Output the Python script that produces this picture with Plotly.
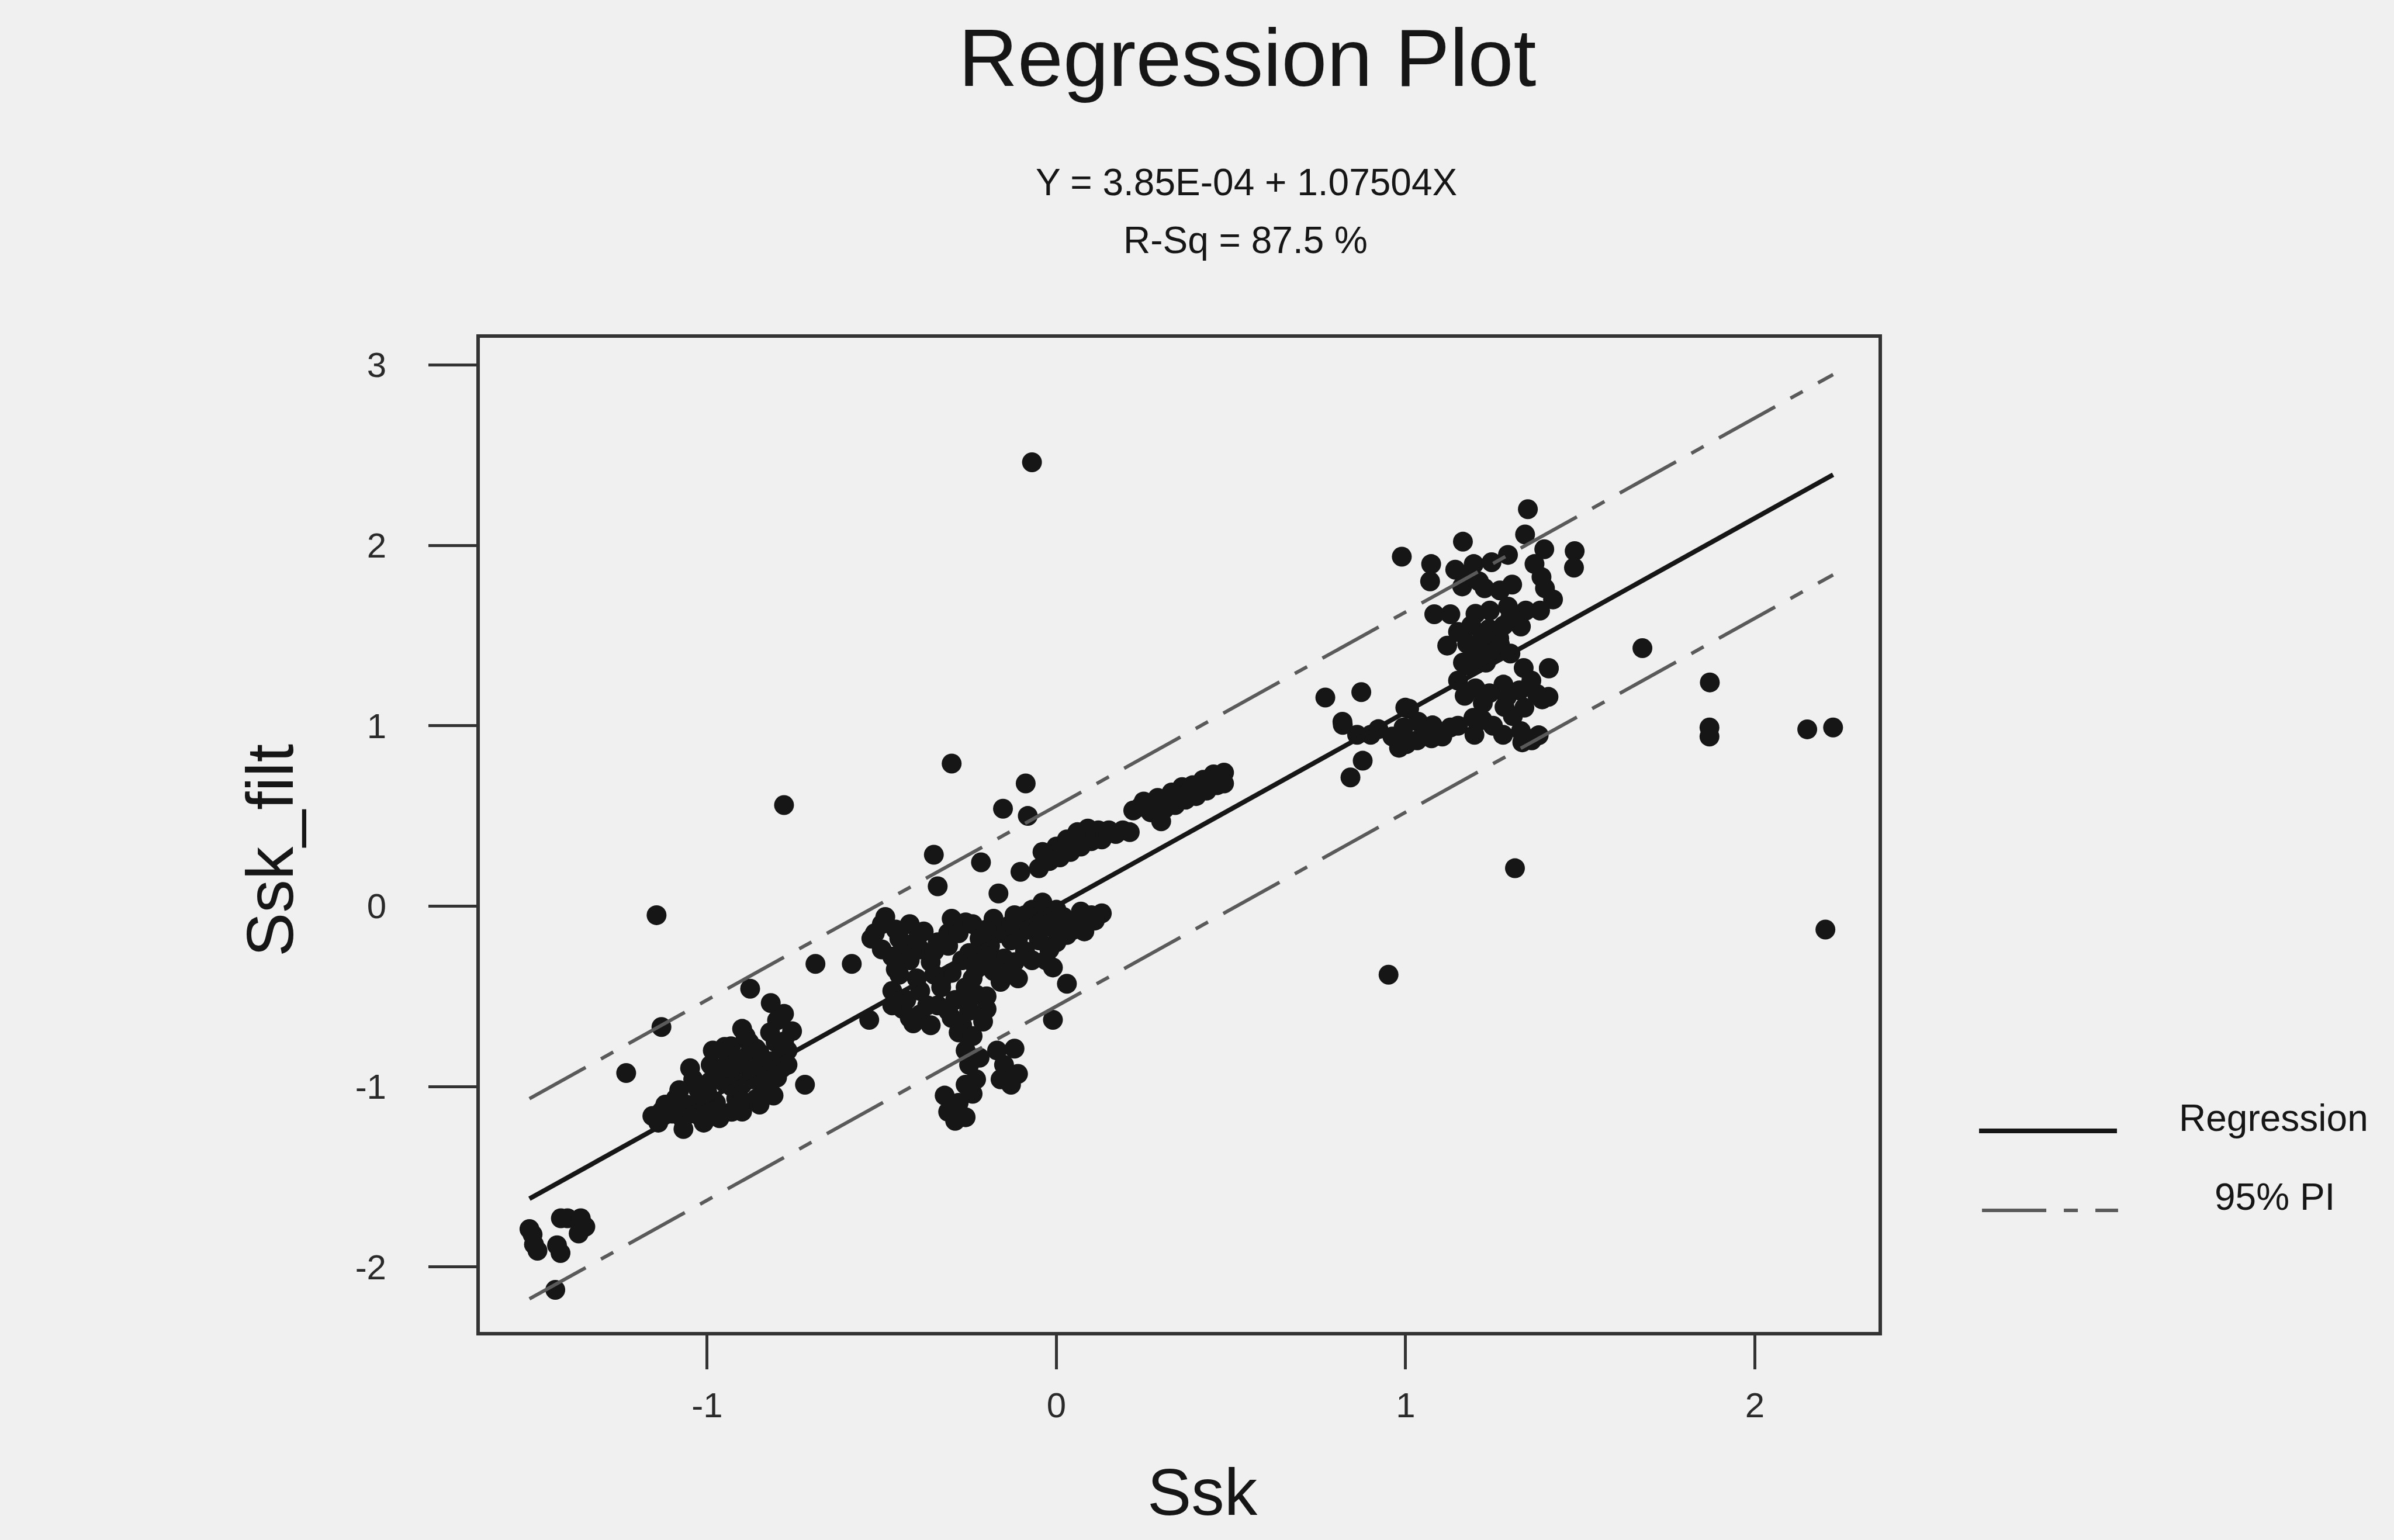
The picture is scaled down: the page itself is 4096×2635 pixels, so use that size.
import plotly.graph_objects as go

# ---- observations: Ssk (x) and filtered Ssk (y) ----
ssk = [
    # isolated observations
    -0.07, -0.78, -1.145, -0.30, 1.678, 1.871, 1.87, 1.87, 2.15, 2.224, 2.202, 1.313, 0.951,
    -1.232, -0.69, -0.586, -0.72, -0.877, -1.131, -0.536,
    # points near the upper band of the central group
    -0.088, -0.153, -0.082, -0.351, -0.216, -0.103, -0.34, -0.166,
    # central group, upper-left lobe
    -0.49, -0.52, -0.46, -0.42, -0.38, -0.50, -0.44, -0.39, -0.34, -0.42, -0.36, -0.47, -0.53,
    -0.30, -0.26, -0.31,
    -0.50, -0.45, -0.40, -0.35, -0.31, -0.28, -0.27, -0.30, -0.33, -0.40, -0.46,
    # central group, middle streak
    -0.24, -0.22, -0.25, -0.21, -0.24, -0.18, -0.16, -0.19, -0.15, -0.18, -0.16,
    -0.12, -0.10, -0.13, -0.09, -0.12, -0.07, -0.04, -0.08, -0.05, -0.02,
    -0.04, 0.00, 0.02, -0.01, 0.03, 0.07, 0.10, 0.13, 0.05, 0.09,
    -0.14, -0.11, -0.07, -0.03, 0.00, 0.05, 0.08, 0.11, -0.20, -0.23, -0.11, -0.06, -0.13, -0.20, -0.09,
    # central group, lower lobe and tail
    -0.47, -0.43, -0.39, -0.44, -0.39, -0.34, -0.36, -0.30, -0.29, -0.25, -0.23, -0.33, -0.41, -0.27,
    -0.45, -0.35, -0.26, -0.20, -0.37, -0.31, -0.42, -0.47, -0.25,
    -0.28, -0.24, -0.26, -0.22, -0.25, -0.20, -0.21,
    -0.17, -0.12, -0.15, -0.11, -0.16, -0.13,
    -0.32, -0.28, -0.31, -0.26, -0.29, -0.24, -0.23, -0.26,
    -0.01, 0.03, -0.01,
    # rising streak above the fit
    -0.05, -0.04, -0.02, 0.00, 0.01, 0.03, 0.04, 0.06, 0.07, 0.09, 0.10, 0.12, 0.13, 0.15, 0.17, 0.19, 0.21,
    -0.03, 0.02, 0.05, 0.08, 0.11, 0.14,
    0.22, 0.25, 0.27, 0.29, 0.31, 0.33, 0.34, 0.36, 0.37, 0.39, 0.40, 0.42, 0.43, 0.45, 0.46, 0.48, 0.48, 0.30,
    0.24, 0.28, 0.32, 0.35, 0.38, 0.41, 0.44, 0.47,
    # group around Ssk = -1
    -0.818, -0.780, -0.757, -0.800, -0.90, -1.13, -1.09, -1.068, -1.049, -1.025, -1.022, -0.984, -0.968,
    -0.975, -0.932, -0.929, -0.917, -0.880, -0.883, -0.90, -0.85, -0.84, -0.859, -0.804, -0.786, -0.821,
    -0.770, -1.004, -0.965, -1.157,
    -1.10, -1.06, -1.00, -0.95, -0.90, -0.86, -0.82, -0.94, -0.99, -1.04, -0.88, -0.80, -0.93, -1.07, -0.84, -0.79,
    -1.12, -1.08, -1.05, -1.02, -0.99, -0.97, -0.96, -0.93, -0.91, -0.90, -0.87, -0.86, -0.85, -0.83,
    -0.82, -0.81, -0.78, -0.77, -1.01, -0.95, -0.89, -1.14,
    # lowest group
    -1.509, -1.496, -1.486, -1.419, -1.40, -1.362, -1.349, -1.368, -1.42, -1.435, -1.50, -1.43,
    # group around Ssk = 1.2
    1.350, 1.342, 1.164, 0.989, 1.073, 1.070, 1.142, 1.162, 1.195, 1.246, 1.293, 1.226, 1.305, 1.397,
    1.484, 1.482, 1.369, 1.389, 1.399, 1.422, 1.082, 1.128, 1.241, 1.293, 1.344, 1.385, 1.188, 1.239,
    1.281, 1.176, 1.217, 1.268, 1.119, 1.164, 1.185, 1.338, 1.410, 1.280, 1.326, 1.376, 1.391, 1.200,
    1.169, 1.221, 1.283, 1.307, 1.220, 1.197, 1.279, 1.330, 1.361, 1.010, 1.036, 1.077, 1.128, 0.819,
    0.861, 0.922, 0.962, 0.994, 0.981, 1.002, 1.033, 1.074, 1.105, 0.770, 0.873, 0.877, 0.842, 0.820,
    0.999, 1.410, 1.409, 1.381, 1.334, 1.194, 1.290,
    1.20, 1.22, 1.25, 1.20, 1.30, 1.15,
    1.18, 1.27, 1.21, 1.33, 1.27, 1.23, 1.15, 1.24, 1.34, 1.25, 1.15, 1.06, 0.90, 1.36, 1.30,
]

ssk_filt = [
    # isolated observations
    2.46, 0.56, -0.05, 0.79, 1.43, 1.24, 0.99, 0.94, 0.98, 0.99, -0.13, 0.21, -0.38,
    -0.925, -0.32, -0.32, -0.99, -0.458, -0.67, -0.63,
    # points near the upper band of the central group
    0.68, 0.54, 0.50, 0.285, 0.243, 0.19, 0.11, 0.07,
    # central group, upper-left lobe
    -0.06, -0.15, -0.13, -0.10, -0.14, -0.24, -0.22, -0.24, -0.20, -0.30, -0.31, -0.28, -0.18,
    -0.07, -0.09, -0.15,
    -0.10, -0.18, -0.19, -0.25, -0.22, -0.15, -0.30, -0.37, -0.42, -0.40, -0.35,
    # central group, middle streak
    -0.10, -0.18, -0.26, -0.33, -0.40, -0.07, -0.15, -0.22, -0.29, -0.36, -0.42,
    -0.05, -0.12, -0.19, -0.25, -0.31, -0.02, -0.08, -0.13, -0.19, -0.24,
    0.02, -0.02, -0.06, -0.12, -0.16, -0.03, -0.05, -0.04, -0.09, -0.09,
    -0.37, -0.40, -0.30, -0.30, -0.20, -0.13, -0.14, -0.08, -0.28, -0.35, -0.18, -0.12, -0.10, -0.13, -0.05,
    # central group, lower lobe and tail
    -0.47, -0.52, -0.47, -0.57, -0.60, -0.55, -0.66, -0.62, -0.52, -0.58, -0.49, -0.45, -0.65, -0.66,
    -0.38, -0.38, -0.45, -0.50, -0.55, -0.58, -0.62, -0.55, -0.52,
    -0.70, -0.72, -0.80, -0.84, -0.88, -0.57, -0.64,
    -0.80, -0.79, -0.88, -0.93, -0.96, -0.99,
    -1.05, -1.09, -1.14, -1.17, -1.19, -1.04, -0.96, -0.99,
    -0.34, -0.43, -0.63,
    # rising streak above the fit
    0.21, 0.30, 0.25, 0.33, 0.27, 0.37, 0.30, 0.41, 0.33, 0.43, 0.36, 0.42, 0.37, 0.42, 0.40, 0.42, 0.41,
    0.27, 0.31, 0.35, 0.38, 0.40, 0.40,
    0.53, 0.58, 0.52, 0.60, 0.54, 0.63, 0.56, 0.66, 0.59, 0.67, 0.61, 0.70, 0.64, 0.73, 0.67, 0.74, 0.68, 0.47,
    0.55, 0.56, 0.59, 0.61, 0.63, 0.65, 0.69, 0.71,
    # group around Ssk = -1
    -0.537, -0.597, -0.693, -0.633, -0.68, -1.136, -1.067, -1.235, -0.898, -1.019, -1.163, -0.80, -0.934,
    -1.09, -0.777, -0.91, -1.067, -0.754, -0.898, -1.139, -0.814, -0.946, -1.067, -0.754, -0.898, -1.019,
    -0.80, -1.139, -1.175, -1.163,
    -1.15, -1.10, -1.03, -0.98, -0.99, -0.88, -0.86, -0.86, -0.88, -0.96, -0.82, -0.95, -1.14, -1.18, -1.02, -0.83,
    -1.10, -1.02, -1.15, -1.08, -0.97, -1.13, -0.90, -1.00, -0.85, -1.08, -0.96, -0.79, -1.10, -0.92,
    -0.70, -1.05, -0.75, -0.88, -1.20, -0.78, -0.72, -1.20,
    # lowest group
    -1.79, -1.875, -1.91, -1.73, -1.73, -1.73, -1.777, -1.814, -1.923, -2.127, -1.82, -1.88,
    # group around Ssk = 1.2
    2.20, 2.06, 2.02, 1.937, 1.896, 1.80, 1.865, 1.772, 1.896, 1.906, 1.947, 1.762, 1.782, 1.978,
    1.968, 1.876, 1.896, 1.824, 1.762, 1.70, 1.618, 1.618, 1.638, 1.66, 1.638, 1.638, 1.556, 1.536,
    1.556, 1.454, 1.454, 1.484, 1.444, 1.35, 1.33, 1.32, 1.32, 1.228, 1.196, 1.176, 1.146, 1.207,
    1.166, 1.125, 1.104, 1.053, 1.032, 0.95, 0.95, 0.97, 0.919, 1.094, 1.022, 1.002, 0.99, 1.022,
    0.95, 0.981, 0.94, 0.99, 0.878, 0.898, 0.919, 0.93, 0.94, 1.156, 1.186, 0.806, 0.713, 1.005,
    1.10, 1.317, 1.16, 0.947, 0.908, 1.044, 1.16,
    1.62, 1.50, 1.40, 1.40, 1.60, 1.52,
    1.84, 1.75, 1.80, 1.55, 1.45, 1.35, 1.25, 1.18, 1.10, 1.00, 1.00, 0.95, 0.95, 1.25, 1.40,
]

# ---- fitted model ----
intercept = 3.85e-04
slope = 1.07504
pi_half_width = 0.555          # half width of the 95% prediction band

x_ticks = [-1, 0, 1, 2]
x_tick_text = ["-1", "0", "1", "2"]
y_ticks = [-2, -1, 0, 1, 2, 3]
y_tick_text = ["-2", "-1", "0", "1", "2", "3"]

title_text = "Regression Plot"
equation_text = "Y = 3.85E-04 + 1.07504X"
rsq_text = "R-Sq = 87.5 %"

# ---- derived lines ----
x_line = [min(ssk), max(ssk)]
y_fit = [intercept + slope * v for v in x_line]
y_upper = [v + pi_half_width for v in y_fit]
y_lower = [v - pi_half_width for v in y_fit]

FONT = "Liberation Sans, Arial, Helvetica, sans-serif"
INK = "#161616"
AXIS = "#333333"
PI_COLOR = "#5a5a5a"
PI_DASH = "110px,30px,24px,30px"
BG = "#f0f0f0"

fig = go.Figure()

fig.add_trace(go.Scatter(
    x=ssk, y=ssk_filt, mode="markers",
    marker=dict(size=34, color=INK, line=dict(width=0)),
    showlegend=False, hoverinfo="skip",
))
fig.add_trace(go.Scatter(
    x=x_line, y=y_fit, mode="lines",
    line=dict(color=INK, width=8), showlegend=False, hoverinfo="skip",
))
for band in (y_upper, y_lower):
    fig.add_trace(go.Scatter(
        x=x_line, y=band, mode="lines",
        line=dict(color=PI_COLOR, width=6, dash=PI_DASH),
        showlegend=False, hoverinfo="skip",
    ))

axis_common = dict(
    showgrid=False, zeroline=False, showline=True, mirror=True,
    linecolor=AXIS, linewidth=6, ticks="outside", tickcolor=AXIS, tickwidth=5,
    tickfont=dict(family=FONT, size=60, color="#2a2a2a"),
)

fig.update_xaxes(range=[-1.651, 2.354], tickmode="array", tickvals=x_ticks,
                 ticktext=x_tick_text, ticklen=58, ticklabelstandoff=10, **axis_common)
fig.update_yaxes(range=[-2.36, 3.15], tickmode="array", tickvals=y_ticks,
                 ticktext=y_tick_text, ticklen=82, ticklabelstandoff=60, **axis_common)

annotations = [
    dict(text=title_text, x=0.5487, y=1.2816, font=dict(size=140)),
    dict(text=equation_text, x=0.5479, y=1.1564, font=dict(size=64)),
    dict(text=rsq_text, x=0.5474, y=1.0982, font=dict(size=64)),
    dict(text="Ssk", x=0.5169, y=-0.1611, font=dict(size=113)),
    dict(text="Ssk_filt", x=-0.150, y=0.4844, textangle=-90, font=dict(size=113)),
    dict(text="Regression", x=1.214, y=0.2152, xanchor="left", font=dict(size=64)),
    dict(text="95% PI", x=1.2394, y=0.1358, xanchor="left", font=dict(size=64)),
]
for a in annotations:
    a.setdefault("xanchor", "center")
    a.update(xref="paper", yref="paper", yanchor="middle", showarrow=False)
    a["font"].update(family=FONT, color=INK)
fig.update_layout(annotations=annotations)

# legend keys
fig.add_shape(type="line", xref="paper", yref="paper", x0=1.0719, x1=1.1705,
              y0=0.2022, y1=0.2022, line=dict(color=INK, width=8))
fig.add_shape(type="line", xref="paper", yref="paper", x0=1.074, x1=1.1713,
              y0=0.1223, y1=0.1223, line=dict(color=PI_COLOR, width=6, dash=PI_DASH))

fig.update_layout(
    width=4096, height=2635,
    margin=dict(l=821, r=882, t=578, b=356, pad=0),
    paper_bgcolor=BG, plot_bgcolor=BG,
    showlegend=False,
)

fig.write_html("out.html")
